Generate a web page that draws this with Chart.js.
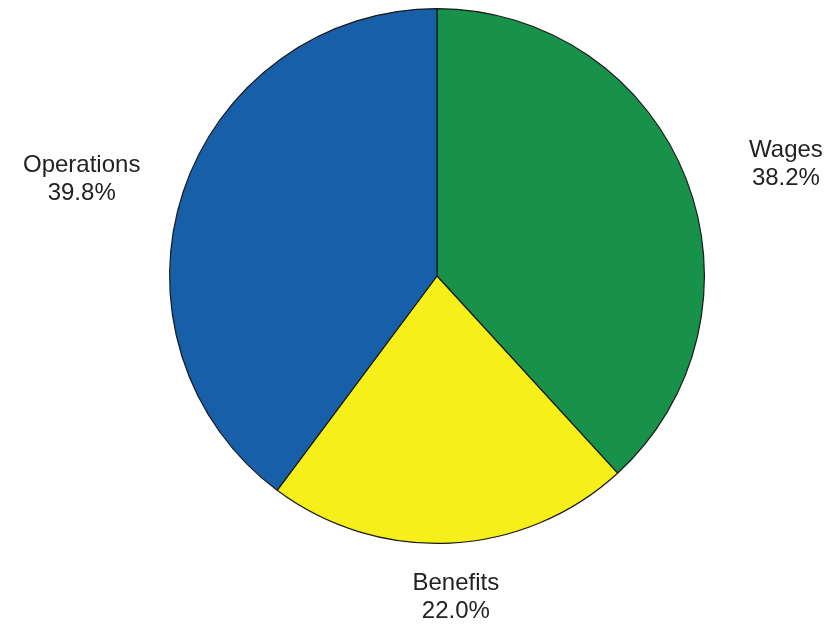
<!DOCTYPE html>
<html>
<head>
<meta charset="utf-8">
<script src="https://cdn.jsdelivr.net/npm/chart.js@4/dist/chart.umd.min.js"></script>
<style>
  html, body { margin: 0; padding: 0; background: #fff; }
  #wrap { width: 829px; height: 629px; }
</style>
</head>
<body>
<div id="wrap"><canvas id="grafico" width="829" height="629"></canvas></div>
<script>
// Datos del gráfico
const categorias = ['Wages', 'Benefits', 'Operations'];
const porcentajes = [38.2, 22.0, 39.8];
const colores = ['#18924a', '#f6ef1a', '#175fa9'];

// Etiquetas fuera del pastel, a partir del ángulo medio de cada sector
const etiquetasExternas = {
    id: 'etiquetasExternas',
    afterDraw(chart) {
        const ctx = chart.ctx;
        const arcos = chart.getDatasetMeta(0).data;
        ctx.save();
        ctx.font = '24px "Liberation Sans", Arial, sans-serif';
        ctx.fillStyle = '#222';
        ctx.textAlign = 'center';
        ctx.textBaseline = 'middle';
        arcos.forEach(function(arco, i) {
            const medio = (arco.startAngle + arco.endAngle) / 2;
            const x = arco.x + Math.cos(medio) * arco.outerRadius * 1.4;
            const y = arco.y + Math.sin(medio) * arco.outerRadius * 1.19 + 4;
            ctx.fillText(categorias[i], x, y - 14);
            ctx.fillText(porcentajes[i].toFixed(1) + '%', x, y + 14);
        });
        ctx.restore();
    }
};

const ctx = document.getElementById('grafico').getContext('2d');
new Chart(ctx, {
    type: 'pie',
    data: {
        labels: categorias,
        datasets: [{
            data: porcentajes,
            backgroundColor: colores,
            borderColor: '#1a1a1a',
            borderWidth: 1.2
        }]
    },
    options: {
        responsive: false,
        animation: false,
        layout: {
            padding: { top: 8, bottom: 85, left: 169, right: 124 }
        },
        plugins: {
            legend: { display: false },
            tooltip: { enabled: false }
        }
    },
    plugins: [etiquetasExternas]
});
</script>
</body>
</html>
